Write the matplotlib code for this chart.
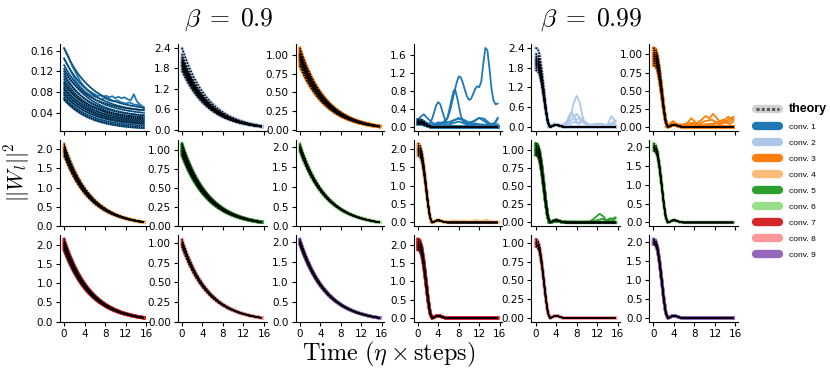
import numpy as np
import matplotlib.pyplot as plt
from matplotlib.lines import Line2D

plt.rcParams['mathtext.fontset'] = 'cm'

# time grid (eta x steps), 0 .. 15.6
t = np.arange(40) * 0.4

# normalised norm decay
decay_09 = [1.000, 0.926, 0.858, 0.794, 0.736, 0.681, 0.631, 0.584, 0.541, 0.501,
            0.464, 0.430, 0.398, 0.369, 0.341, 0.316, 0.293, 0.271, 0.251, 0.233,
            0.215, 0.199, 0.185, 0.171, 0.158, 0.147, 0.136, 0.126, 0.116, 0.108,
            0.100, 0.093, 0.086, 0.079, 0.074, 0.068, 0.063, 0.058, 0.054, 0.050]
decay_099 = [1.00, 0.99, 0.91, 0.73, 0.50, 0.26, 0.07, 0.00, 0.010, 0.025,
             0.030, 0.025, 0.015, 0.006, 0.002] + [0.0] * 25

layer_names = ['conv. 1', 'conv. 2', 'conv. 3', 'conv. 4', 'conv. 5',
               'conv. 6', 'conv. 7', 'conv. 8', 'conv. 9']
layer_colors = ['#1f77b4', '#aec7e8', '#ff7f0e', '#ffbb78', '#2ca02c',
                '#98df8a', '#d62728', '#ff9896', '#9467bd']

# initial squared norms of the channels in each layer
conv1_start = [0.165, 0.145, 0.132, 0.125, 0.12, 0.115, 0.11, 0.105, 0.10, 0.097,
               0.094, 0.09, 0.087, 0.084, 0.08, 0.077, 0.074, 0.07, 0.067, 0.065]
conv1_end = [0.05, 0.045, 0.04, 0.035, 0.045, 0.03, 0.035, 0.028, 0.03, 0.025,
             0.032, 0.022, 0.027, 0.02, 0.024, 0.018, 0.02, 0.015, 0.012, 0.01]
conv2_init = [2.40, 2.22, 2.15, 2.10, 2.06, 2.03, 2.00, 1.98, 1.95, 1.92, 1.90, 1.87, 1.83, 1.78, 1.72]
conv3_init = [1.09, 1.06, 1.03, 1.01, 1.00, 0.98, 0.97, 0.95, 0.93, 0.91, 0.88, 0.85]
conv4_init = [2.15, 2.10, 2.06, 2.03, 2.00, 1.98, 1.96, 1.93, 1.90, 1.86, 1.82]
conv5_init = [1.09, 1.07, 1.05, 1.03, 1.01, 1.00, 0.99, 0.97, 0.95, 0.93]
conv6_init = [2.10, 2.06, 2.03, 2.01, 2.00, 1.98, 1.96, 1.93, 1.90]
conv7_init = [2.15, 2.10, 2.06, 2.03, 2.00, 1.97, 1.94, 1.90, 1.86]
conv8_init = [1.05, 1.03, 1.01, 1.00, 0.99, 0.98, 0.96, 0.95]
conv9_init = [2.08, 2.05, 2.02, 2.00, 1.98, 1.96, 1.94]
layer_init = [conv1_start, conv2_init, conv3_init, conv4_init, conv5_init,
              conv6_init, conv7_init, conv8_init, conv9_init]

# beta = 0.9, conv. 1 channels that stall on a plateau
conv1_plateau = [
    [(0, 0.165), (0.8, 0.15), (1.6, 0.13), (2.4, 0.115), (3.2, 0.10), (4.0, 0.09), (4.8, 0.083),
     (5.6, 0.078), (6.0, 0.076), (6.6, 0.072), (7.0, 0.074), (7.6, 0.071), (8.2, 0.073), (8.8, 0.07),
     (9.4, 0.072), (10, 0.068), (10.6, 0.071), (11.2, 0.068), (11.8, 0.07), (12.4, 0.066), (13, 0.064),
     (13.6, 0.076), (14.2, 0.062), (14.8, 0.056), (15.6, 0.05)],
    [(0, 0.145), (0.8, 0.13), (1.6, 0.115), (2.4, 0.1), (3.2, 0.09), (4, 0.082), (4.8, 0.076),
     (5.6, 0.072), (6.4, 0.07), (7.2, 0.066), (8, 0.068), (8.8, 0.064), (9.6, 0.062), (10.4, 0.064),
     (11.2, 0.06), (12, 0.058), (12.8, 0.06), (13.6, 0.056), (14.4, 0.055), (15.6, 0.048)],
]

# beta = 0.99, channels that bounce back after the first drop
bumps_conv1 = [
    [(0, 0.15), (0.8, 0.12), (1.6, 0.09), (2.4, 0.05), (3.2, 0.06), (4.0, 0.10), (4.8, 0.09),
     (5.6, 0.15), (6.0, 0.25), (6.4, 0.40), (6.8, 0.60), (7.2, 0.80), (7.6, 0.98), (8.0, 1.12),
     (8.4, 1.10), (8.8, 0.98), (9.2, 0.82), (9.6, 0.68), (10.0, 0.60), (10.4, 0.62), (10.8, 0.72),
     (11.2, 0.84), (11.6, 0.90), (12.0, 0.88), (12.4, 1.00), (12.8, 1.40), (13.2, 1.75), (13.6, 1.70),
     (14.0, 1.30), (14.4, 0.85), (14.8, 0.58), (15.2, 0.50), (15.6, 0.52)],
    [(0, 0.12), (0.8, 0.12), (1.6, 0.08), (2.4, 0.08), (2.8, 0.18), (3.2, 0.32), (3.6, 0.48),
     (4.0, 0.55), (4.4, 0.50), (4.8, 0.35), (5.2, 0.20), (5.6, 0.10), (6.4, 0.10), (7.2, 0.15),
     (8.0, 0.20), (8.8, 0.14), (9.6, 0.08), (10.4, 0.10), (11.2, 0.15), (12.0, 0.20), (12.8, 0.14),
     (13.6, 0.08), (14.4, 0.06), (15.2, 0.10), (15.6, 0.18)],
    [(0, 0.10), (1, 0.09), (2, 0.05), (3, 0.05), (4, 0.08), (5, 0.10), (5.8, 0.2), (6.4, 0.5),
     (7.0, 0.8), (7.3, 0.83), (7.8, 0.6), (8.4, 0.25), (9, 0.1), (10, 0.06), (11, 0.08), (12, 0.06),
     (13, 0.05), (14, 0.05), (15, 0.05), (15.6, 0.06)],
    [(0, 0.14), (0.5, 0.22), (1.2, 0.28), (2, 0.18), (2.8, 0.1), (3.5, 0.05), (5, 0.08), (6, 0.1),
     (7, 0.15), (8, 0.18), (9, 0.16), (10, 0.1), (11, 0.12), (12, 0.2), (13, 0.18), (14, 0.08),
     (15, 0.05), (15.6, 0.04)],
    [(0, 0.1), (2, 0.04), (4, 0.03), (6, 0.05), (8, 0.12), (9, 0.08), (10, 0.04), (12, 0.05),
     (14, 0.04), (15, 0.08), (15.6, 0.2)],
]
bumps_conv2 = [
    [(2.4, 0.0), (3.2, 0.05), (4.0, 0.08), (5.0, 0.02), (6.0, 0.05), (6.8, 0.3), (7.4, 0.7), (8.0, 0.95),
     (8.6, 0.75), (9.2, 0.3), (9.8, 0.05), (10.6, 0.02), (12, 0.05), (13, 0.08), (14, 0.03), (15.6, 0.01)],
    [(2.4, 0.0), (3.6, 0.12), (4.8, 0.02), (6.0, 0.15), (6.8, 0.42), (7.4, 0.35), (8.2, 0.1), (9.0, 0.25),
     (9.6, 0.15), (10.4, 0.02), (11.6, 0.08), (12.4, 0.04), (14.0, 0.05), (14.8, 0.33), (15.6, 0.15)],
    [(2.4, 0.0), (3.4, 0.08), (4.6, 0.03), (6.2, 0.1), (7.0, 0.45), (7.8, 0.2), (8.6, 0.28), (9.4, 0.12),
     (10.2, 0.05), (12.2, 0.1), (13.4, 0.03), (15.0, 0.12), (15.6, 0.2)],
    [(2.4, 0.0), (4, 0.1), (5.5, 0.05), (7, 0.2), (8, 0.4), (9, 0.2), (10, 0.1), (11, 0.06),
     (12.5, 0.1), (14, 0.05), (15.6, 0.08)],
    [(2.4, 0.0), (3.8, 0.06), (6, 0.03), (7.5, 0.15), (8.5, 0.1), (9.5, 0.18), (10.5, 0.05),
     (13, 0.04), (15, 0.1), (15.6, 0.05)],
]
bumps_conv3 = [
    [(2.4, 0), (3.6, 0.06), (4.6, 0.02), (6.4, 0.04), (7.4, 0.12), (8.4, 0.05), (9.4, 0.10), (10.2, 0.15),
     (11, 0.12), (11.6, 0.18), (12.4, 0.12), (13.2, 0.05), (14.2, 0.08), (15, 0.12), (15.6, 0.14)],
    [(2.4, 0), (3.8, 0.08), (5, 0.02), (7, 0.05), (8.6, 0.03), (10, 0.08), (11.4, 0.1), (12.8, 0.04),
     (14.6, 0.14), (15.6, 0.10)],
    [(2.4, 0), (4, 0.05), (5.6, 0.01), (7.2, 0.04), (9, 0.02), (11, 0.04), (12.5, 0.02), (14, 0.06),
     (15, 0.04), (15.6, 0.08)],
    [(2.4, 0), (3.8, 0.04), (6, 0.03), (8, 0.06), (9.6, 0.03), (12, 0.05), (13.6, 0.1), (14.6, 0.06),
     (15.6, 0.12)],
]
bumps_conv4 = [
    [(2.4, 0), (3.6, 0.08), (4.6, 0.03), (6, 0.02), (7, 0.06), (8, 0.02), (9, 0.06), (10, 0.02),
     (11.5, 0.07), (12.5, 0.03), (13.4, 0.08), (14.5, 0.02), (15.6, 0.01)],
    [(2.4, 0), (4, 0.06), (5.5, 0.01), (7.6, 0.05), (9.4, 0.02), (10.8, 0.05), (12, 0.02), (13, 0.06),
     (14.2, 0.03), (15.6, 0.02)],
]
bumps_conv5 = [
    [(2.4, 0), (4, 0.02), (8, 0.01), (10.5, 0.01), (11.5, 0.06), (12.5, 0.12), (13.3, 0.08),
     (13.9, 0.01), (14.6, 0.04), (15.2, 0.06), (15.6, 0.06)],
    [(2.4, 0), (6, 0.01), (10, 0.01), (12, 0.03), (13, 0.05), (13.8, 0.03), (14.6, 0.06),
     (15.2, 0.02), (15.6, 0.07)],
]
bumps_099 = [bumps_conv1, bumps_conv2, bumps_conv3, bumps_conv4, bumps_conv5, [], [], [], []]

yticks_09 = [[0.04, 0.08, 0.12, 0.16], [0.0, 0.6, 1.2, 1.8, 2.4], [0.0, 0.25, 0.5, 0.75, 1.0],
             [0.0, 0.5, 1.0, 1.5, 2.0], [0.0, 0.25, 0.5, 0.75, 1.0], [0.0, 0.5, 1.0, 1.5, 2.0],
             [0.0, 0.5, 1.0, 1.5, 2.0], [0.0, 0.25, 0.5, 0.75, 1.0], [0.0, 0.5, 1.0, 1.5, 2.0]]
yticks_099 = [[0.0, 0.4, 0.8, 1.2, 1.6], [0.0, 0.6, 1.2, 1.8, 2.4], [0.0, 0.25, 0.5, 0.75, 1.0],
              [0.0, 0.5, 1.0, 1.5, 2.0], [0.0, 0.25, 0.5, 0.75, 1.0], [0.0, 0.5, 1.0, 1.5, 2.0],
              [0.0, 0.5, 1.0, 1.5, 2.0], [0.0, 0.25, 0.5, 0.75, 1.0], [0.0, 0.5, 1.0, 1.5, 2.0]]
xticks = [0, 4, 8, 12, 16]

fig, axes = plt.subplots(3, 6, figsize=(8.3, 3.78), dpi=100,
                         gridspec_kw=dict(left=60/830, right=738/830, top=1-44/378,
                                          bottom=1-322/378, wspace=0.33, hspace=0.1))

d09 = np.array(decay_09)
d099 = np.array(decay_099)
dotted = (0, (1, 1))

for g, (profile, yticks) in enumerate([(d09, yticks_09), (d099, yticks_099)]):
    for k in range(9):
        r, c = divmod(k, 3)
        ax = axes[r, 3 * g + c]
        col = layer_colors[k]
        if g == 0 and k == 0:
            shape = (d09 - d09[-1]) / (1 - d09[-1])
            curves = [e + (s - e) * shape for s, e in zip(conv1_start, conv1_end)]
            for y in curves:
                ax.plot(t, y, color=col, lw=1.3)
            for p in conv1_plateau:
                ax.plot(*zip(*p), color=col, lw=1.3)
            for y in curves:
                ax.plot(t, y, color='k', lw=0.8, ls=dotted, alpha=0.85)
        else:
            for s in layer_init[k]:
                ax.plot(t, s * profile, color=col, lw=2.2)
            if g == 1:
                for b in bumps_099[k]:
                    ax.plot(*zip(*b), color=col, lw=1.3)
            for s in layer_init[k]:
                ax.plot(t, s * profile, color='k', lw=1.1, ls=dotted)
        ax.set_xlim(-0.8, 16.5)
        ax.set_xticks(xticks)
        ax.set_yticks(yticks[k])
        ax.spines['top'].set_visible(False)
        ax.spines['right'].set_visible(False)
        ax.tick_params(labelsize=7.5, length=3, width=0.8, pad=2)
        if r < 2:
            ax.tick_params(labelbottom=False)

# conv. 1 at beta = 0.9 starts above zero
axes[0, 0].set_ylim(0.005, 0.173)

fig.text(229/830, 1-20/378, r'$\beta\;=\;0.9$', ha='center', va='center', fontsize=18.5)
fig.text(591/830, 1-20/378, r'$\beta\;=\;0.99$', ha='center', va='center', fontsize=18.5)
fig.text(17/830, 1-172/378, r'$||W_l||^2$', ha='center', va='center', rotation=90, fontsize=15.5)
fig.text(389/830, 1-354/378, r'$\mathrm{Time}\ (\eta \times \mathrm{steps})$',
         ha='center', va='center', fontsize=17.5)

theory_handle = (Line2D([], [], color='0.82', lw=6, solid_capstyle='round'),
                 Line2D([], [], color='0.35', lw=2.2, ls=(0, (1, 0.7))))
handles = [theory_handle] + [Line2D([], [], color=cl, lw=6, solid_capstyle='round')
                             for cl in layer_colors]
leg = fig.legend(handles, ['theory'] + layer_names, loc='center left',
                 bbox_to_anchor=(756/830, 1-181/378), frameon=False,
                 prop={'family': 'Liberation Sans', 'size': 6},
                 handlelength=2.8, handletextpad=1.1, labelspacing=0.98, borderpad=0,
                 borderaxespad=0)
leg.get_texts()[0].set_fontweight('bold')
leg.get_texts()[0].set_fontsize(9)

fig.savefig('out.png', dpi=100)
